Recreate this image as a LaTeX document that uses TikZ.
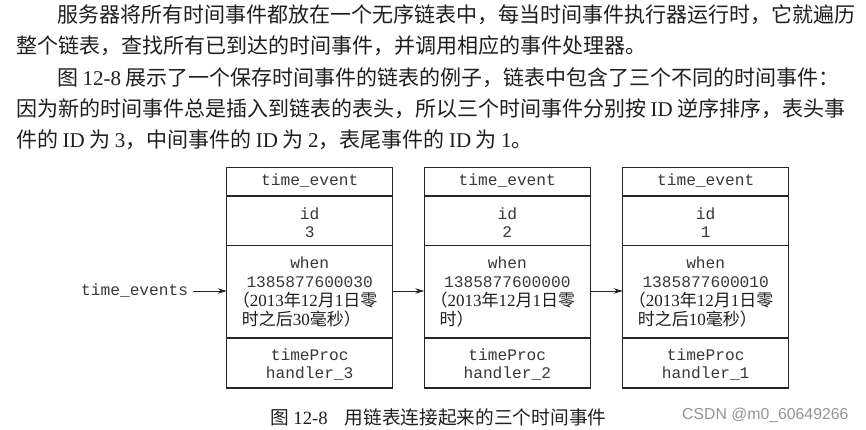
\documentclass[tikz,border=0pt]{standalone}
\usepackage{fontspec}
\setmainfont{Liberation Serif}
\setmonofont{Liberation Mono}
\setsansfont{Liberation Sans}
\newfontfamily\cjk{Noto Sans CJK SC}
\usetikzlibrary{arrows.meta}
\newcommand\lat[1]{{\rmfamily #1}}
\newcommand\zsp{\kern4.5pt\relax}
\newcommand\eventbox[6]{%
  \pgfmathsetmacro\cx{#2+83}%
  \node[cell, minimum height=28.7pt] (#1h) at (#2,167.3) {};
  \node[cell, minimum height=49.7pt] (#1i) at (#2,196) {};
  \node[cell, minimum height=92.3pt] (#1w) at (#2,245.7) {};
  \node[cell, minimum height=50pt] (#1p) at (#2,338) {};
  \node[mono] (#1t1) at (\cx,186) {time\_event};
  \node[mono] (#1t2) at (\cx,219) {id};
  \node[mono] (#1t3) at (\cx,237) {#3};
  \node[mono] (#1t4) at (\cx,268.3) {when};
  \node[mono] (#1t5) at (\cx,287) {#4};
  \node[zhbox] (#1t6) at (#2+6,306.5) {#5};
  \node[zhbox] (#1t7) at (#2+15,325.5) {#6};
  \node[mono] (#1t8) at (\cx,360.3) {timeProc};
  \node[mono] (#1t9) at (\cx,378.3) {handler\_#3};
}
\begin{document}
\begin{tikzpicture}[x=1pt,y=-1pt,
  cell/.style={draw=black!85, line width=1.1pt, minimum width=166pt, inner sep=0pt, outer sep=0pt, anchor=north west},
  mono/.style={font=\fontsize{16.2pt}{18pt}\selectfont\ttfamily, text=black!78, anchor=base, inner sep=0pt},
  zhbox/.style={font=\fontsize{17pt}{20pt}\selectfont\cjk, text=black!88, anchor=base west, inner sep=0pt},
  para/.style={font=\fontsize{21pt}{24pt}\selectfont\cjk, text=black!88, anchor=base west, inner sep=0pt},
  arr/.style={draw=black!85, line width=0.8pt, -{Stealth[length=9pt,width=5.5pt]}}]
\useasboundingbox (0,0) rectangle (866,430);
\fill[white] (0,0) rectangle (866,430);
% paragraph
\node[para] (p1) at (57,22.8) {服务器将所有时间事件都放在一个无序链表中，每当时间事件执行器运行时，它就遍历};
\node[para] (p2) at (16,54) {整个链表，查找所有已到达的时间事件，并调用相应的事件处理器。};
\node[para] (p3) at (57,85.3) {图\zsp\lat{12-8}\zsp 展示了一个保存时间事件的链表的例子，链表中包含了三个不同的时间事件：};
\node[para] (p4) at (16,116.5) {因为新的时间事件总是插入到链表的表头，所以三个时间事件分别按\zsp\lat{ID}\zsp 逆序排序，表头事};
\node[para] (p5) at (16,147.8) {件的\zsp\lat{ID}\zsp 为\zsp\lat{3}，中间事件的\zsp\lat{ID}\zsp 为\zsp\lat{2}，表尾事件的\zsp\lat{ID}\zsp 为\zsp\lat{1}。};
% boxes
\eventbox{A}{226.7}{3}{1385877600030}{（\lat{2013}年\lat{12}月\lat{1}日零}{时之后\lat{30}毫秒）}
\eventbox{B}{424.3}{2}{1385877600000}{（\lat{2013}年\lat{12}月\lat{1}日零}{时）}
\eventbox{C}{622.7}{1}{1385877600010}{（\lat{2013}年\lat{12}月\lat{1}日零}{时之后\lat{10}毫秒）}
% pointer
\node[mono, anchor=east, text height=10.5pt, text depth=0.7pt] (tev) at (188.3,291) {time\_events};
\draw[arr] ([xshift=4.4pt]tev.east) -- (tev.east -| Aw.west);
\draw[arr] (Aw.east |- tev.east) -- (Bw.west |- tev.east);
\draw[arr] (Bw.east |- tev.east) -- (Cw.west |- tev.east);
% caption
\node[para, font=\fontsize{18.7pt}{22pt}\selectfont\cjk] (cap) at (270,424) {图\zsp\lat{12-8}\hspace{17pt}用链表连接起来的三个时间事件};
\node[font=\fontsize{15.8pt}{18pt}\selectfont\sffamily, text=black!42, anchor=base west, inner sep=0pt] (wm) at (682,419) {CSDN @m0\_60649266};
\end{tikzpicture}
\end{document}
